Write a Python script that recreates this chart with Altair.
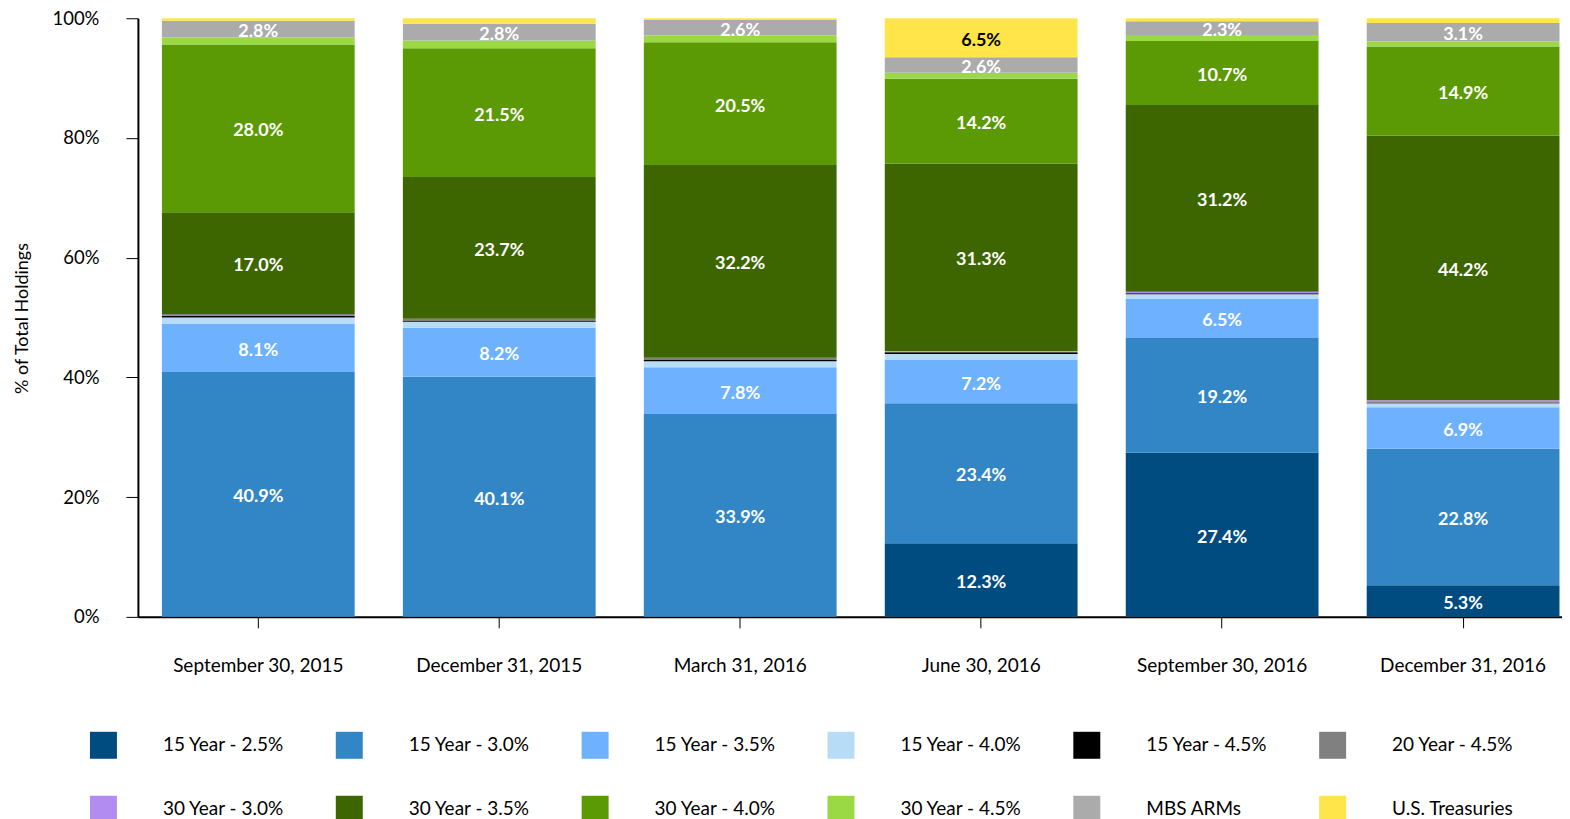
import altair as alt
import pandas as pd

dates = ["September 30, 2015", "December 31, 2015", "March 31, 2016",
         "June 30, 2016", "September 30, 2016", "December 31, 2016"]

categories = ["15 Year - 2.5%", "15 Year - 3.0%", "15 Year - 3.5%", "15 Year - 4.0%",
              "15 Year - 4.5%", "20 Year - 4.5%", "30 Year - 3.0%", "30 Year - 3.5%",
              "30 Year - 4.0%", "30 Year - 4.5%", "MBS ARMs", "U.S. Treasuries"]

colors = ["#004B80", "#3286C5", "#6EB1FF", "#B7DCF6", "#000000", "#808080",
          "#B28CF0", "#3D6600", "#5B9A04", "#9AD944", "#ABABAB", "#FFE44A"]

s15_25 = [0.0, 0.0, 0.0, 12.3, 27.4, 5.3]
s15_30 = [40.9, 40.1, 33.9, 23.4, 19.2, 22.8]
s15_35 = [8.1, 8.2, 7.8, 7.2, 6.5, 6.9]
s15_40 = [1.0, 1.0, 1.0, 1.0, 0.8, 0.6]
s15_45 = [0.3, 0.2, 0.2, 0.3, 0.15, 0.0]
s20_45 = [0.3, 0.3, 0.4, 0.1, 0.05, 0.3]
s30_30 = [0.0, 0.0, 0.0, 0.1, 0.2, 0.3]
s30_35 = [17.0, 23.7, 32.2, 31.3, 31.2, 44.2]
s30_40 = [28.0, 21.5, 20.5, 14.2, 10.7, 14.9]
s30_45 = [1.2, 1.3, 1.1, 1.0, 1.0, 0.8]
mbs_arms = [2.8, 2.8, 2.6, 2.6, 2.3, 3.1]
treasuries = [0.4, 0.9, 0.3, 6.5, 0.5, 0.8]

series = [s15_25, s15_30, s15_35, s15_40, s15_45, s20_45,
          s30_30, s30_35, s30_40, s30_45, mbs_arms, treasuries]

rows = []
for ci, (cat, vals) in enumerate(zip(categories, series)):
    for d, v in zip(dates, vals):
        rows.append({"date": d, "cat": cat, "order": ci, "value": v})
df = pd.DataFrame(rows)

FONT = "Lato"

base = alt.Chart(df).transform_stack(
    stack="value", groupby=["date"], sort=[alt.SortField("order", order="ascending")],
    as_=["y0", "y1"]
).transform_calculate(
    mid="(datum.y0 + datum.y1) / 2",
    label="format(datum.value, '.1f') + '%'"
)

x_enc = alt.X("date:N", sort=dates, title=None,
              scale=alt.Scale(paddingInner=0.2, paddingOuter=0.055, align=0.905),
              axis=alt.Axis(labelAngle=0, labelFontSize=19, labelFont=FONT, labelColor="#000000",
                            tickSize=11, tickColor="#000000", tickWidth=1,
                            domainColor="#000000", domainWidth=2, labelPadding=29))

y_scale = alt.Scale(domain=[0, 100], nice=False)

bars = base.mark_bar().encode(
    x=x_enc,
    y=alt.Y("y0:Q", scale=y_scale, title="% of Total Holdings",
            axis=alt.Axis(values=[0, 20, 40, 60, 80, 100], labelExpr="datum.value + '%'",
                          grid=False, labelFontSize=18.5, labelFont=FONT, labelColor="#000000",
                          tickSize=12, tickColor="#000000", tickWidth=1,
                          domainColor="#000000", domainWidth=2, labelPadding=27,
                          titleFont=FONT, titleFontSize=18, titleFontWeight="normal",
                          titleColor="#000000", titleX=-115, titleY=300, titleAngle=270,
                          titleBaseline="middle", titleAlign="center")),
    y2="y1:Q",
    color=alt.Color("cat:N", scale=alt.Scale(domain=categories, range=colors),
                    legend=alt.Legend(title=None, orient="none", legendX=-48, legendY=714,
                                      direction="horizontal",
                                      columns=6, symbolType="square", symbolSize=729,
                                      symbolStrokeWidth=0, symbolOpacity=1,
                                      labelFont=FONT, labelFontSize=19, labelColor="#000000",
                                      labelOffset=46, columnPadding=51, rowPadding=37,
                                      gridAlign="all", padding=0, labelLimit=300)),
    order=alt.Order("order:Q")
)

texts = base.transform_filter("datum.value >= 2").mark_text(
    font=FONT, fontSize=18, fontWeight="bold", baseline="middle", align="center", dy=3
).encode(
    x=alt.X("date:N", sort=dates),
    y=alt.Y("mid:Q", scale=y_scale),
    text="label:N",
    color=alt.condition("datum.cat == 'U.S. Treasuries'", alt.value("#000000"), alt.value("#FFFFFF"))
)

chart = alt.layer(bars, texts).properties(
    width=1425, height=599,
    padding={"left": 130, "top": 10, "right": 0, "bottom": 202},
    autosize=alt.AutoSizeParams(type="none")
).configure_view(strokeWidth=0)

chart.save("out.html", embed_options={"renderer": "svg", "actions": False})
